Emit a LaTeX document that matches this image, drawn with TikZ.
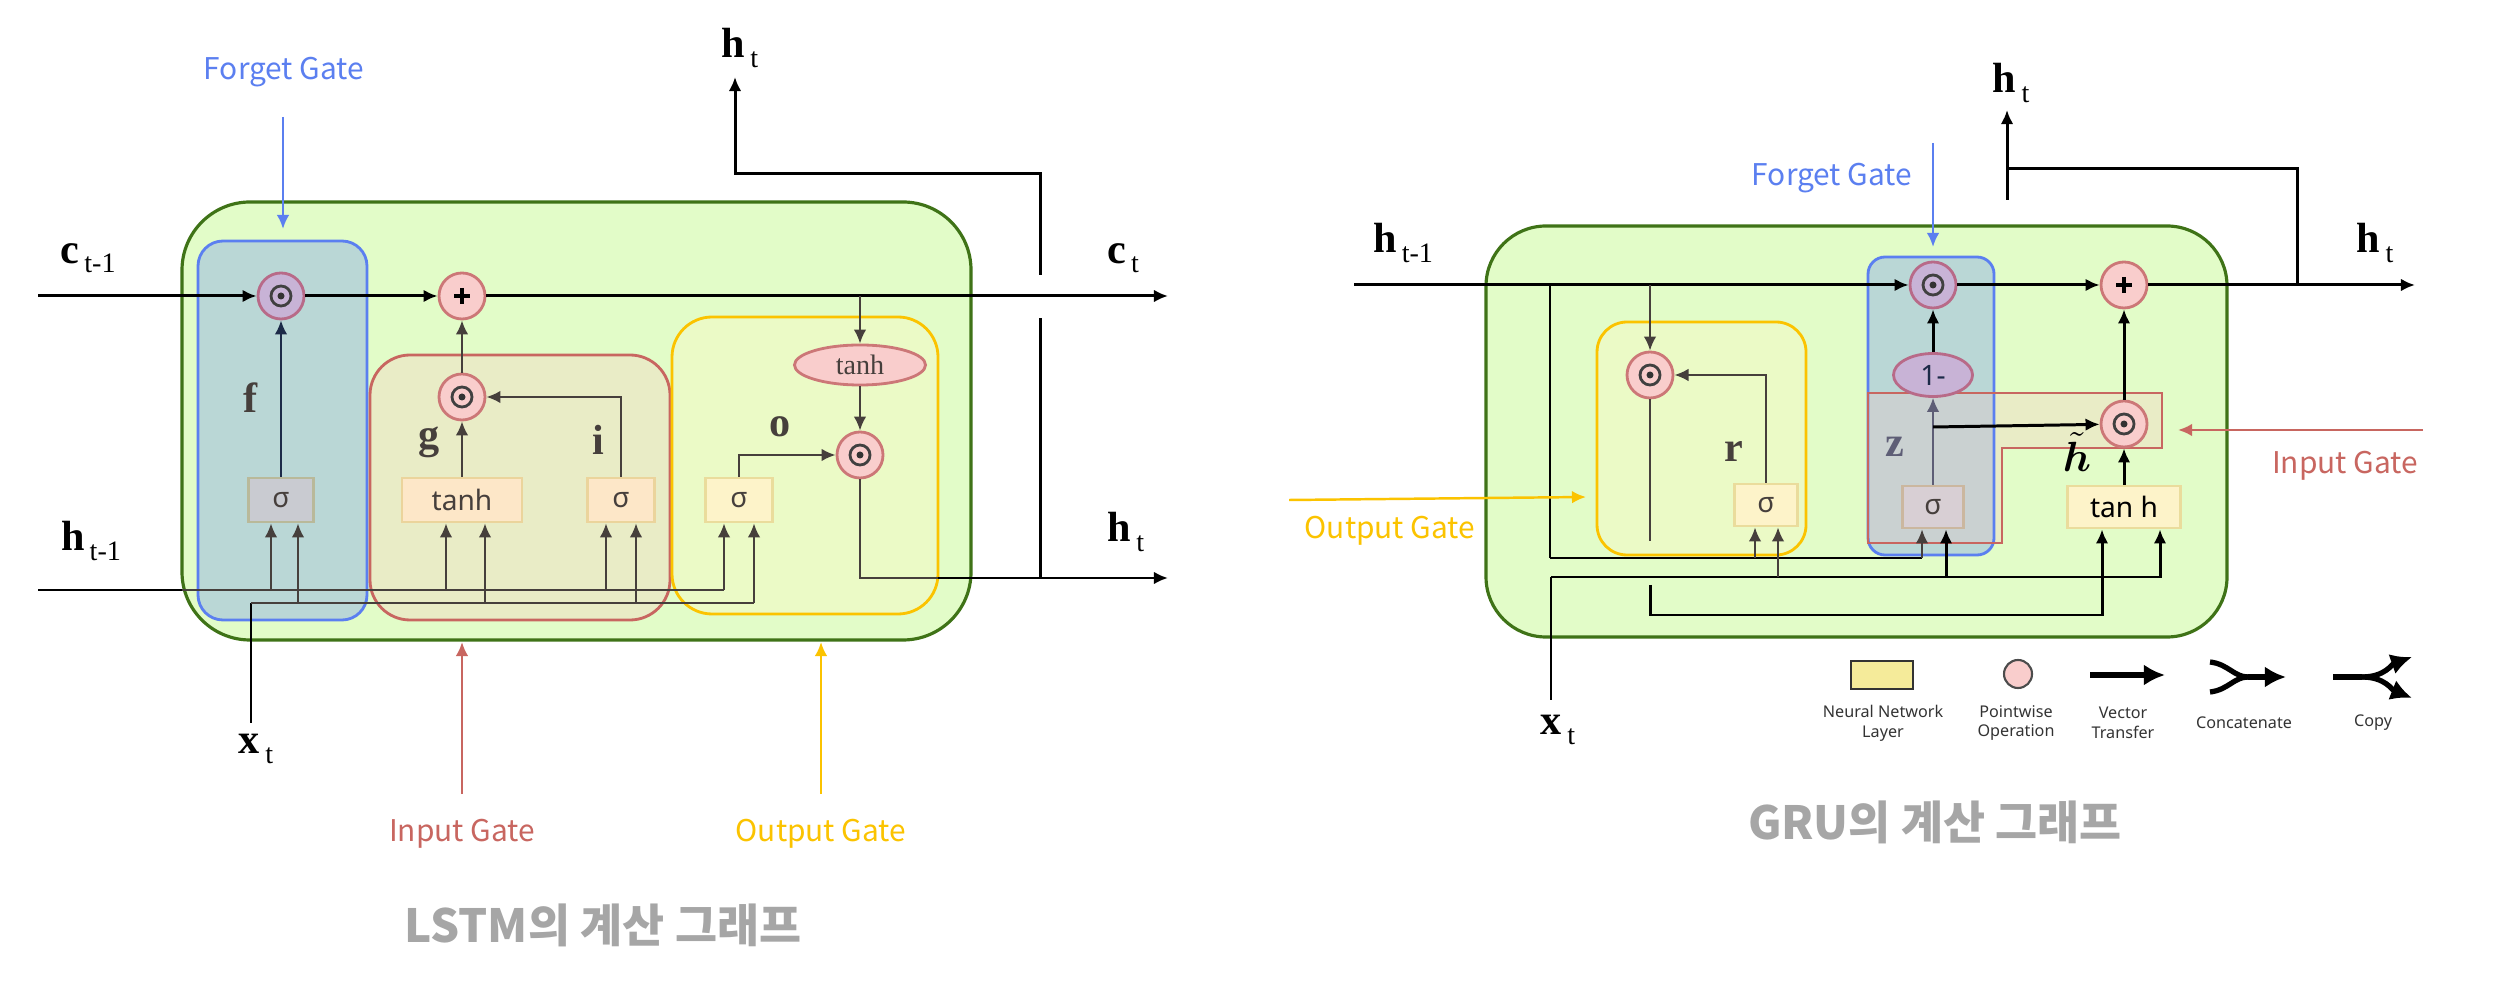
\documentclass[tikz,border=0pt]{standalone}
\usepackage{fontspec}
\usepackage{amsmath}
\usetikzlibrary{arrows.meta,shapes.geometric,calc}
\setmainfont{Liberation Serif}
\newfontfamily\kr{Noto Sans CJK KR}
\newfontfamily\nsans{Noto Sans}
\newcommand\lbl[2]{{\fontsize{12}{14}\selectfont\bfseries #1}\hspace{1.5pt}\raisebox{-2.6pt}{\fontsize{8}{9}\selectfont #2}}
\newcommand\odotin[1]{\draw[line width=0.8pt, draw=black!75] (#1.center) circle (0.1cm); \fill[black!80] (#1.center) circle (0.035cm);}
\newcommand\plusin[1]{\draw[line width=1.3pt] ($(#1.center)+(-8,0)$) -- ($(#1.center)+(8,0)$) ($(#1.center)+(0,-8)$) -- ($(#1.center)+(0,8)$);}
\definecolor{grfill}{HTML}{E2FCC8}
\definecolor{grline}{HTML}{3F7317}
\definecolor{bluefill}{HTML}{BAD7D6}
\definecolor{blueline}{HTML}{5B7FF0}
\definecolor{redfill}{HTML}{E9ECC6}
\definecolor{redline}{HTML}{C86660}
\definecolor{yelfill}{HTML}{EBFAC6}
\definecolor{yelline}{HTML}{FBC300}
\definecolor{pinkfill}{HTML}{F9CDCC}
\definecolor{pinkline}{HTML}{CC7777}
\definecolor{purfill}{HTML}{C8B3D6}
\definecolor{purline}{HTML}{B86A88}
\definecolor{gsfill}{HTML}{C9CBD1}
\definecolor{gsline}{HTML}{B9B99A}
\definecolor{peachfill}{HTML}{FDE7C8}
\definecolor{peachline}{HTML}{EBD49C}
\definecolor{ltyfill}{HTML}{FDF3C9}
\definecolor{ltyline}{HTML}{EADC9C}
\definecolor{darkln}{HTML}{463F3C}
\definecolor{navyln}{HTML}{1C2A48}
\definecolor{titlegray}{HTML}{A6A6A6}
\definecolor{overlap}{HTML}{CAD1D1}
\definecolor{zsfill}{HTML}{D8CFD4}
\definecolor{zsline}{HTML}{CBB79F}
\definecolor{zline}{HTML}{5E5E76}
\definecolor{legyel}{HTML}{F5EB9A}
\tikzset{
  mainln/.style={line width=0.85pt, draw=black},
  innerln/.style={line width=0.6pt, draw=darkln},
  arw/.style={-{Latex[length=4pt,width=3.6pt]}},
  pwop/.style={circle, draw=pinkline, fill=pinkfill, line width=0.8pt, minimum size=0.46cm, inner sep=0pt},
  pwpur/.style={pwop, draw=purline, fill=purfill},
  nnlayer/.style={rectangle, line width=0.8pt, minimum height=0.44cm, inner sep=0pt, font=\nsans\fontsize{8}{9}\selectfont, text=darkln},
  gatelbl/.style={font=\kr\fontsize{8.5}{10}\selectfont, inner sep=0pt},
  mlbl/.style={inner sep=0pt},
  varlbl/.style={font=\fontsize{12}{14}\selectfont\bfseries, text=darkln, inner sep=0pt},
  legtxt/.style={font=\nsans\fontsize{4.6}{5.6}\selectfont, align=center, text=black!80, inner sep=0pt},
  ttl/.style={font=\kr\bfseries\fontsize{13}{15}\selectfont, text=titlegray, inner sep=0pt},
  gatearw/.style={line width=0.7pt, arw},
}
\begin{document}
\begin{tikzpicture}[x=0.01cm,y=-0.01cm]
\useasboundingbox (0,0) rectangle (2495,986);
% ================= LSTM =================
\filldraw[fill=grfill, draw=grline, line width=0.9pt, rounded corners=0.68cm] (182,202) rectangle (971,640);
\filldraw[fill=bluefill, draw=blueline, line width=0.8pt, rounded corners=0.25cm] (198,241) rectangle (367,620);
\filldraw[fill=redfill, draw=redline, line width=0.8pt, rounded corners=0.4cm] (370,355) rectangle (670,620);
\filldraw[fill=yelfill, draw=yelline, line width=0.8pt, rounded corners=0.4cm] (672,317) rectangle (938,614);

\node[pwpur] (fA) at (281,296) {};
\node[pwop] (pP) at (462,296) {};
\node[pwop] (gG) at (462,397) {};
\node[ellipse, draw=pinkline, fill=pinkfill, line width=0.8pt, minimum width=1.31cm, minimum height=0.40cm, inner sep=0pt, font=\fontsize{8}{9}\selectfont, text=darkln] (tT) at (860,365) {tanh};
\node[pwop] (oO) at (860,455) {};
\node[nnlayer, fill=gsfill, draw=gsline, minimum width=0.65cm] (sF) at (281,500) {σ};
\node[nnlayer, fill=peachfill, draw=peachline, minimum width=1.2cm] (sG) at (462,500) {tanh};
\node[nnlayer, fill=peachfill, draw=peachline, minimum width=0.67cm] (sI) at (621,500) {σ};
\node[nnlayer, fill=ltyfill, draw=ltyline, minimum width=0.67cm] (sO) at (739,500) {σ};
\odotin{fA} \plusin{pP} \odotin{gG} \odotin{oO}

% cell line
\coordinate (c0) at (38,296); \coordinate (c1) at (1168,296); \coordinate (cb) at (860,296);
\draw[mainln,arw] (c0) -- (fA);
\draw[mainln,arw] (fA) -- (pP);
\draw[mainln,arw] (pP) -- (c1);
\draw[innerln,arw] (cb) -- (tT);
\draw[innerln,arw] (tT) -- (oO);
% output h
\coordinate (oc) at (860,578); \coordinate (og) at (938,578); \coordinate (ho) at (1168,578);
\draw[innerln] (oO) -- (oc) -- (og);
\draw[mainln,arw] (og) -- (ho);
\coordinate (v0) at (1040,578); \coordinate (v1) at (1040,318); \coordinate (v2) at (1040,275);
\coordinate (v3) at (1040,174); \coordinate (v4) at (735,174); \coordinate (v5) at (735,77);
\draw[mainln] (v0) -- (v1);
\draw[mainln,arw] (v2) -- (v3) -- (v4) -- (v5);
% h_{t-1}
\coordinate (hl0) at (38,590); \coordinate (hl1) at (182,590); \coordinate (hl2) at (724,590);
\draw[mainln] (hl0) -- (hl1);
\draw[innerln] (hl1) -- (hl2);
\foreach \xx/\tg in {271/sF,446/sG,606/sI,724/sO}{
  \coordinate (hb) at (\xx,590);
  \draw[innerln,arw] (hb) -- (hb |- \tg.south);
}
% x_t
\coordinate (xl0) at (251,723); \coordinate (xl1) at (251,603); \coordinate (xl2) at (754,603);
\draw[mainln] (xl0) -- (xl1);
\draw[innerln] (xl1) -- (xl2);
\foreach \xx/\tg in {298/sF,485/sG,636/sI,754/sO}{
  \coordinate (xb) at (\xx,603);
  \draw[innerln,arw] (xb) -- (xb |- \tg.south);
}
\draw[innerln, draw=navyln, arw] (sF) -- (fA);
\draw[innerln,arw] (sG) -- (gG);
\draw[innerln,arw] (gG) -- (pP);
\draw[innerln,arw] (sI.north) |- (gG);
\draw[innerln,arw] (sO.north) |- (oO);

\node[varlbl] at (251,398) {f};
\node[varlbl] at (429,442) {g};
\node[varlbl] at (598,440) {i};
\node[varlbl] at (780,427) {o};

\node[mlbl] (lc0) at (88,258) {\lbl{c}{t-1}};
\node[mlbl] (lc1) at (1123,258) {\lbl{c}{t}};
\node[mlbl] (lh0) at (91,541) {\lbl{h}{t-1}};
\node[mlbl] (lh1) at (1126,532) {\lbl{h}{t}};
\node[mlbl] (lh2) at (740,48) {\lbl{h}{t}};
\node[mlbl] (lx0) at (256,749) {\lbl{x}{t}};

\node[gatelbl, text=blueline] (fgl) at (284,72) {Forget Gate};
\coordinate (fa0) at (283,117); \coordinate (fa1) at (283,229);
\draw[gatearw, blueline] (fa0) -- (fa1);
\node[gatelbl, text=redline] (igl) at (462,834) {Input Gate};
\coordinate (ia0) at (462,794); \coordinate (ia1) at (462,642);
\draw[gatearw, redline] (ia0) -- (ia1);
\node[gatelbl, text=yelline] (ogl) at (821,834) {Output Gate};
\coordinate (oa0) at (821,794); \coordinate (oa1) at (821,642);
\draw[gatearw, yelline] (oa0) -- (oa1);
\node[ttl] (t1) at (603,925) {LSTM의 계산 그래프};

% ================= GRU =================
\filldraw[fill=grfill, draw=grline, line width=0.9pt, rounded corners=0.6cm] (1486,226) rectangle (2227,637);
\filldraw[fill=yelfill, draw=yelline, line width=0.8pt, rounded corners=0.3cm] (1597,322) rectangle (1806,555);
\fill[bluefill, rounded corners=0.17cm] (1868,257) rectangle (1994,555);
\fill[redfill] (1868,393) -- (2162,393) -- (2162,448) -- (2002,448) -- (2002,543) -- (1868,543) -- cycle;
\begin{scope}
\clip[rounded corners=0.17cm] (1868,257) rectangle (1994,555);
\fill[overlap] (1868,393) -- (2162,393) -- (2162,448) -- (2002,448) -- (2002,543) -- (1868,543) -- cycle;
\end{scope}
\draw[blueline, line width=0.8pt, rounded corners=0.17cm] (1868,257) rectangle (1994,555);
\draw[redline, line width=0.8pt] (1868,393) -- (2162,393) -- (2162,448) -- (2002,448) -- (2002,543) -- (1868,543) -- cycle;

\node[pwop] (rR) at (1650,375) {};
\node[pwpur] (gF) at (1933,285) {};
\node[pwop] (gP) at (2124,285) {};
\node[ellipse, draw=purline, fill=purfill, line width=0.8pt, minimum width=0.79cm, minimum height=0.43cm, inner sep=0pt, font=\nsans\fontsize{8}{9}\selectfont, text=navyln] (om) at (1933,375) {1-};
\node[pwop] (gI) at (2124,424) {};
\node[nnlayer, fill=ltyfill, draw=ltyline, minimum width=0.63cm, minimum height=0.42cm] (rS) at (1766,505) {σ};
\node[nnlayer, fill=zsfill, draw=zsline, minimum width=0.61cm, minimum height=0.42cm] (zS) at (1933,507) {σ};
\node[nnlayer, fill=ltyfill, draw=ltyline, minimum width=1.13cm, minimum height=0.42cm, text=black] (tH) at (2124,507) {tan h};
\odotin{rR} \odotin{gF} \plusin{gP} \odotin{gI}

\coordinate (g0) at (1354,285); \coordinate (g1) at (2415,285);
\draw[mainln,arw] (g0) -- (gF);
\draw[mainln,arw] (gF) -- (gP);
\draw[mainln,arw] (gP) -- (g1);
\coordinate (u0) at (2297,285); \coordinate (u1) at (2297,169); \coordinate (u2) at (2007,169);
\coordinate (u3) at (2007,200); \coordinate (u4) at (2007,110);
\draw[mainln] (u0) -- (u1) -- (u2);
\draw[mainln,arw] (u3) -- (u4);
% branch from h to z sigma
\coordinate (b1) at (1550,285); \coordinate (b1d) at (1550,558); \coordinate (b1e) at (1922,558); \coordinate (b1r) at (1755,558);
\draw[line width=0.6pt] (b1) -- (b1d);
\draw[mainln] (b1d) -- (b1e);
\draw[innerln,arw] (b1e) -- (b1e |- zS.south);
\draw[innerln,arw] (b1r) -- (b1r |- rS.south);
% branch to reset
\coordinate (b2) at (1650,285);
\draw[innerln,arw] (b2) -- (rR);
\coordinate (r1) at (1650,541); \coordinate (r2) at (1650,585); \coordinate (r3) at (1650,615); \coordinate (r4) at (2102,615);
\draw[innerln] (rR) -- (r1);
\draw[mainln,arw] (r2) -- (r3) -- (r4) -- (r4 |- tH.south);
% x line
\coordinate (x0) at (1551,700); \coordinate (x1) at (1551,577); \coordinate (x2) at (2160,577);
\coordinate (xr) at (1778,577); \coordinate (xz) at (1946,577);
\draw[line width=0.6pt] (x0) -- (x1);
\draw[mainln,arw] (x1) -- (x2) -- (x2 |- tH.south);
\draw[innerln,arw] (xr) -- (xr |- rS.south);
\draw[mainln,arw] (xz) -- (xz |- zS.south);
\draw[innerln,arw] (rS.north) |- (rR);
\draw[draw=zline, line width=0.6pt, arw] (zS) -- (om);
\coordinate (zb) at (1933,427);
\draw[mainln,arw] (zb) -- (gI);
\draw[mainln,arw] (om) -- (gF);
\draw[mainln,arw] (tH) -- (gI);
\draw[mainln,arw] (gI) -- (gP);

\node[varlbl] at (1734,452) {r};
\node[varlbl, text=zline] at (1895,447) {z};
\node[inner sep=0pt, font=\fontsize{11.5}{13}\selectfont] (htl) at (2077,452) {$\tilde{\boldsymbol{h}}$};

\node[mlbl] (gh0) at (1403,243) {\lbl{h}{t-1}};
\node[mlbl] (gh1) at (2375,243) {\lbl{h}{t}};
\node[mlbl] (gh2) at (2011,83) {\lbl{h}{t}};
\node[mlbl] (gx0) at (1558,730) {\lbl{x}{t}};

\node[gatelbl, text=blueline] (gfl) at (1832,178) {Forget Gate};
\coordinate (gfa0) at (1933,143); \coordinate (gfa1) at (1933,247);
\draw[gatearw, blueline] (gfa0) -- (gfa1);
\node[gatelbl, text=redline] (gil) at (2345,466) {Input Gate};
\coordinate (gia0) at (2423,430); \coordinate (gia1) at (2178,430);
\draw[gatearw, redline] (gia0) -- (gia1);
\node[gatelbl, text=yelline] (gol) at (1390,531) {Output Gate};
\coordinate (goa0) at (1289,500); \coordinate (goa1) at (1586,497);
\draw[gatearw, yelline] (goa0) -- (goa1);

% legend
\node[draw=black!80, fill=legyel, line width=0.7pt, minimum width=0.62cm, minimum height=0.28cm, inner sep=0pt] (lgA) at (1882,675) {};
\node[circle, draw=black!70, fill=pinkfill, line width=0.6pt, minimum size=0.28cm, inner sep=0pt] (lgB) at (2018,674) {};
\coordinate (lv0) at (2090,675); \coordinate (lv1) at (2165,675);
\draw[line width=1.6pt, -{Latex[length=6pt,width=6pt]}] (lv0) -- (lv1);
\coordinate (lc1) at (2210,662); \coordinate (lc2) at (2210,692); \coordinate (lcm) at (2248,677); \coordinate (lce) at (2286,677);
\draw[line width=1.5pt] (lc1) .. controls (2228,664) and (2234,677) .. (lcm);
\draw[line width=1.5pt] (lc2) .. controls (2228,690) and (2234,677) .. (lcm);
\draw[line width=1.5pt, -{Latex[length=6pt,width=6pt]}] (lcm) -- (lce);
\coordinate (lp0) at (2333,677); \coordinate (lpm) at (2362,677); \coordinate (lpu) at (2412,657); \coordinate (lpd) at (2412,698);
\draw[line width=1.5pt] (lp0) -- (lpm);
\draw[line width=1.5pt, -{Latex[length=6pt,width=6pt]}] (lpm) .. controls (2385,677) and (2392,664) .. (lpu);
\draw[line width=1.5pt, -{Latex[length=6pt,width=6pt]}] (lpm) .. controls (2385,677) and (2392,690) .. (lpd);
\node[legtxt] (lt1) at (1883,723) {Neural Network\\Layer};
\node[legtxt] (lt2) at (2016,723) {Pointwise\\Operation};
\node[legtxt] (lt3) at (2123,723) {Vector\\Transfer};
\node[legtxt] (lt4) at (2244,723) {Concatenate};
\node[legtxt] (lt5) at (2373,723) {Copy};

\node[ttl] (t2) at (1935,822) {GRU의 계산 그래프};
\end{tikzpicture}
\end{document}
